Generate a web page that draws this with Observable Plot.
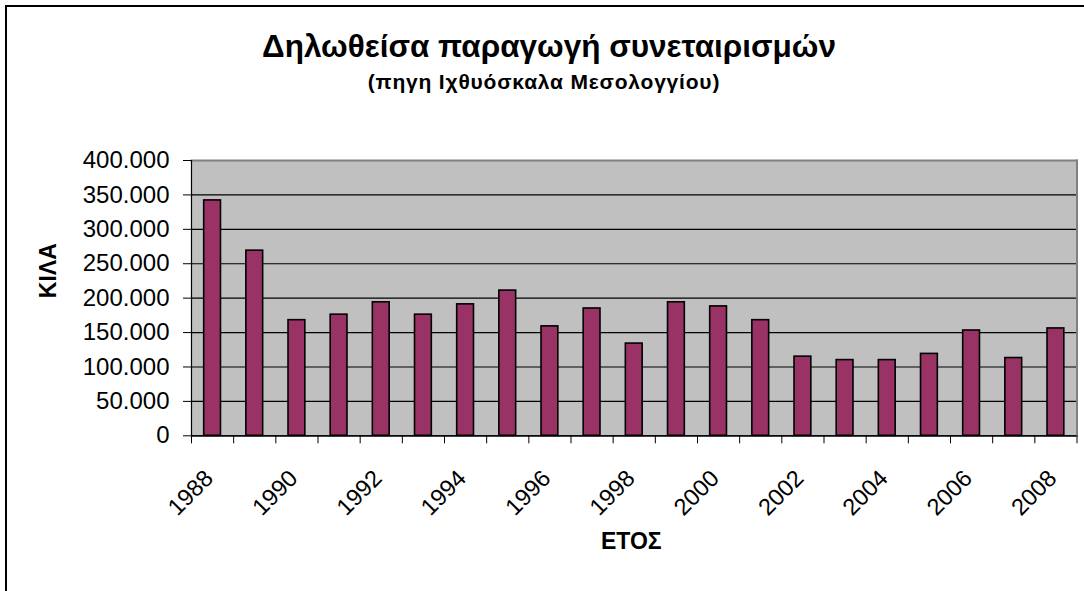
<!DOCTYPE html>
<html>
<head>
<meta charset="utf-8">
<script src="https://cdn.jsdelivr.net/npm/d3@7"></script>
<script src="https://cdn.jsdelivr.net/npm/@observablehq/plot@0.6"></script>
<style>
  html, body { margin: 0; padding: 0; background: #fff; }
  #wrap { position: relative; width: 1084px; height: 591px; overflow: hidden; font-family: "Liberation Sans", Arial, sans-serif; }
  #border { position: absolute; left: 5px; top: 5px; width: 1200px; height: 700px; border-left: 2px solid #000; border-top: 2px solid #000; }
  .t { position: absolute; white-space: nowrap; font-weight: bold; color: #000; transform: translateX(-50%); }
  #title { left: 549px; top: 31px; font-size: 31.5px; line-height: 31px; }
  #subtitle { left: 544px; top: 71px; font-size: 21px; line-height: 21px; letter-spacing: 0.8px; }
  #chart { position: absolute; left: 0; top: 100px; }
  #chart svg text.ylab { letter-spacing: 0.4px; }
</style>
</head>
<body>
<div id="wrap">
  <div id="border"></div>
  <div class="t" id="title">Δηλωθείσα παραγωγή συνεταιρισμών</div>
  <div class="t" id="subtitle">(πηγη Ιχθυόσκαλα Μεσολογγίου)</div>
  <div id="chart"></div>
</div>
<script>
const years = [1988, 1989, 1990, 1991, 1992, 1993, 1994, 1995, 1996, 1997, 1998,
               1999, 2000, 2001, 2002, 2003, 2004, 2005, 2006, 2007, 2008];
const kilos = [342000, 269000, 168000, 176000, 194000, 176000, 191000, 211000, 159000, 185000, 134000,
               194000, 188000, 168000, 115000, 110000, 110000, 119000, 153000, 113000, 156000];
const labelYears = [1988, 1990, 1992, 1994, 1996, 1998, 2000, 2002, 2004, 2006, 2008];
const yTicks = [0, 50000, 100000, 150000, 200000, 250000, 300000, 350000, 400000];
const yLabel = "ΚΙΛΑ";
const xLabel = "ΕΤΟΣ";

const data = years.map((y, i) => ({year: y, value: kilos[i]}));
const fmt = d3.formatLocale({decimal: ",", thousands: ".", grouping: [3], currency: ["", ""]}).format(",d");

const W = 1084, H = 491, mL = 191, mR = 7.5, mT = 60, mB = 155.7;
const step = (W - mL - mR) / years.length;
const inset = (step - 16.8) / 2;
const font = "Liberation Sans, Arial, sans-serif";

const chart = Plot.plot({
  width: W, height: H,
  marginLeft: mL, marginRight: mR, marginTop: mT, marginBottom: mB,
  style: {fontFamily: font, fontSize: "24px", color: "#000", background: "transparent", overflow: "visible"},
  x: {type: "band", domain: years, padding: 0, round: false, axis: null},
  y: {domain: [0, 400000], axis: null},
  marks: [
    Plot.frame({fill: "#c0c0c0", stroke: "none"}),
    Plot.gridY(yTicks, {stroke: "#000", strokeOpacity: 1, strokeWidth: 1.2}),
    Plot.frame({anchor: "top", stroke: "#808080", strokeWidth: 2}),
    Plot.frame({anchor: "right", stroke: "#808080", strokeWidth: 2}),
    Plot.barY(data, {x: "year", y: "value", fill: "#993366", stroke: "#000", strokeWidth: 1.6, insetLeft: inset, insetRight: inset}),
    Plot.frame({anchor: "left", stroke: "#000", strokeWidth: 1.2}),
    Plot.ruleY([0], {stroke: "#000", strokeWidth: 1.2}),
    Plot.axisY({ticks: yTicks, tickSize: 8, tickPadding: 14, tickFormat: fmt, fontSize: 24, label: null}),
    Plot.axisX({ticks: years, tickSize: 8, tickFormat: () => "", dx: -step / 2, label: null}),
    Plot.axisX({ticks: [years[years.length - 1]], tickSize: 8, tickFormat: () => "", dx: step / 2, label: null}),
    Plot.text(labelYears, {x: d => d, text: d => String(d), frameAnchor: "bottom", dy: 44, dx: 2, rotate: -45, textAnchor: "end", lineAnchor: "bottom", fontSize: 23.5}),
    Plot.text([yLabel], {frameAnchor: "left", dx: -143, rotate: -90, fontWeight: "bold", fontSize: 23}),
    Plot.text([xLabel], {frameAnchor: "bottom", dy: 113, dx: -3, fontWeight: "bold", fontSize: 23})
  ]
});
document.getElementById("chart").appendChild(chart);
</script>
</body>
</html>
